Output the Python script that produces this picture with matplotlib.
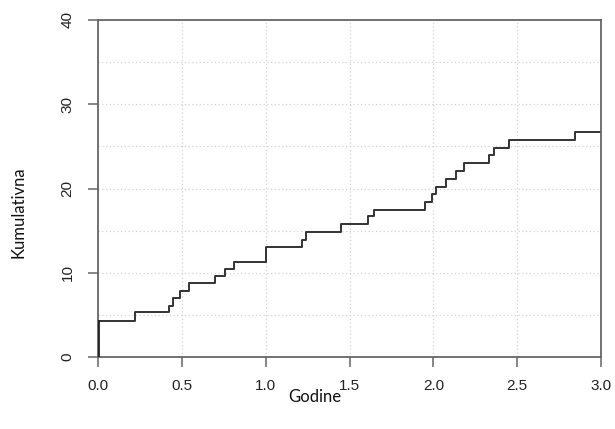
import numpy as np
import matplotlib
matplotlib.use('Agg')
import matplotlib.pyplot as plt

# event times (years) and cumulative value after each step
godine = [0.0, 0.22, 0.425, 0.45, 0.49, 0.54, 0.70, 0.76, 0.81, 1.0,
          1.215, 1.24, 1.447, 1.61, 1.645, 1.95, 1.99, 2.015, 2.075,
          2.135, 2.18, 2.33, 2.36, 2.45, 2.845]
kumulativna = [4.3, 5.3, 6.05, 6.95, 7.85, 8.75, 9.65, 10.45, 11.3, 13.0,
               13.9, 14.85, 15.8, 16.7, 17.45, 18.4, 19.3, 20.2, 21.1,
               22.1, 23.0, 24.0, 24.8, 25.75, 26.7]
x_end = 3.0

xticks = [0.0, 0.5, 1.0, 1.5, 2.0, 2.5, 3.0]
yticks = [0, 10, 20, 30, 40]

x = [0.0] + godine + [x_end]
y = [0.0] + kumulativna + [kumulativna[-1]]

tickfont = ['Liberation Sans', 'DejaVu Sans']
labfont = ['Lato', 'DejaVu Sans']

fig = plt.figure(figsize=(6.15, 4.29), dpi=100)
ax = fig.add_axes([98/615, 1-357/429, 503/615, 337/429])

# grid every 0.5 / 5
for gx in np.arange(0.5, 3.0, 0.5):
    ax.axvline(gx, color='#d3d3d3', lw=0.9, ls=(0, (1, 2)), zorder=0)
for gy in np.arange(5, 40, 5):
    ax.axhline(gy, color='#d3d3d3', lw=0.9, ls=(0, (1, 2)), zorder=0)

ax.step(x, y, where='post', color='#333333', lw=1.4, zorder=2)
ax.plot([0, 0], [0, kumulativna[0]], color='#222222', lw=2.0, zorder=3)

ax.set_xlim(0, 3.0)
ax.set_ylim(0, 40)
ax.set_xticks(xticks)
ax.set_xticklabels(['%.1f' % t for t in xticks], family=tickfont)
ax.set_yticks(yticks)
ax.set_yticklabels([str(t) for t in yticks], rotation=90, va='center',
                   family=tickfont)

for s in ax.spines.values():
    s.set_color('#666666')
    s.set_linewidth(1.3)
ax.tick_params(direction='out', length=7, width=1.1, color='#666666',
               labelsize=11, labelcolor='#222222')
ax.tick_params(axis='x', pad=9)
ax.tick_params(axis='y', pad=10)

ax.set_xlabel('Godine', fontsize=12, family=labfont, color='#111111')
ax.set_ylabel('Kumulativna', fontsize=12, family=labfont, color='#111111')
ax.xaxis.set_label_coords(0.431, -0.095)
ax.yaxis.set_label_coords(-0.143, 0.43)

plt.savefig('out.png', dpi=100)
plt.close('all')
